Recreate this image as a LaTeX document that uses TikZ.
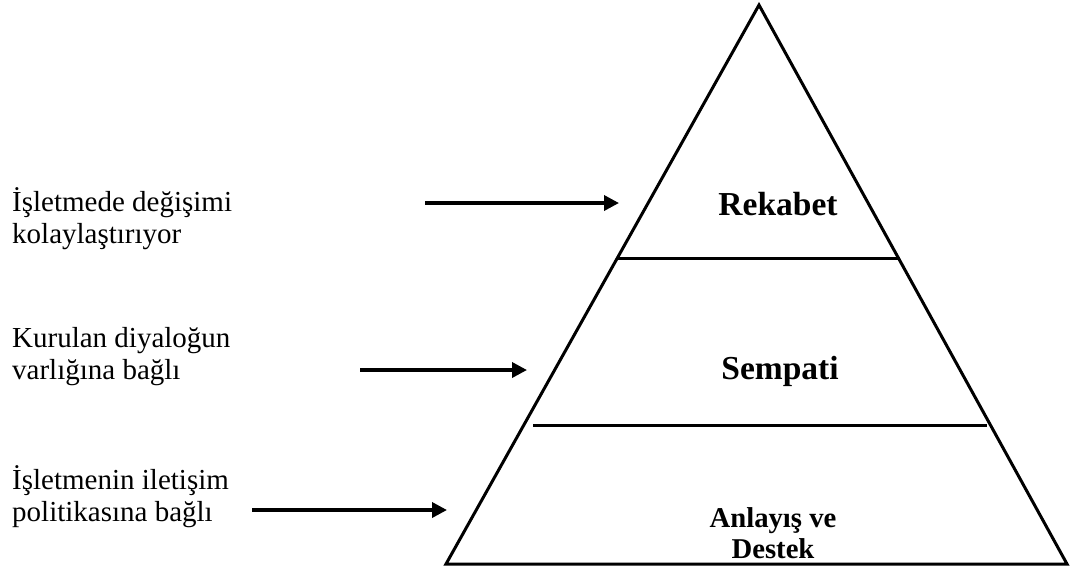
\documentclass[tikz,border=0pt]{standalone}
\usepackage{fontspec}
\setmainfont{Liberation Serif}
\usetikzlibrary{arrows.meta}
\begin{document}
\begin{tikzpicture}[x=1pt,y=-1pt,
  edge/.style={line width=3pt,line join=miter},
  divider/.style={line width=3pt},
  pointer/.style={line width=3.5pt,-{Triangle[length=15pt,width=15pt]}},
  note/.style={anchor=base west,align=left,font=\fontsize{29}{31.5}\selectfont,inner sep=0pt},
  tier/.style={anchor=center,align=center,font=\bfseries\fontsize{33.5}{36}\selectfont,inner sep=0pt},
  tiersmall/.style={anchor=center,align=center,font=\bfseries\fontsize{28.7}{31}\selectfont,inner sep=0pt}]
\useasboundingbox (0,0) rectangle (1070,571);
% pyramid outline
\coordinate (apex) at (759,5);
\coordinate (bl) at (446,564);
\coordinate (br) at (1067,564);
\draw[edge] (apex) -- (bl) -- (br) -- cycle;
% tier dividers
\coordinate (d1l) at (617,258);
\coordinate (d1r) at (900,258);
\coordinate (d2l) at (533,425);
\coordinate (d2r) at (987,425);
\draw[divider] (d1l) -- (d1r);
\draw[divider] (d2l) -- (d2r);
% tier labels
\node[tier] (rek) at (778,204) {Rekabet};
\node[tier] (sem) at (780,371) {Sempati};
\node[tiersmall] (and) at (773,533) {Anlayış ve\\Destek};
% side notes (anchored at the baseline of their last line)
\node[note] (n1) at (12,243) {İşletmede değişimi\\kolaylaştırıyor};
\node[note] (n2) at (12,379) {Kurulan diyaloğun\\varlığına bağlı};
\node[note] (n3) at (12,521) {İşletmenin iletişim\\politikasına bağlı};
% pointers
\coordinate (a1s) at (425,203);
\coordinate (a1e) at (619,203);
\coordinate (a2s) at (360,370);
\coordinate (a2e) at (527,370);
\coordinate (a3s) at (252,510);
\coordinate (a3e) at (447,510);
\draw[pointer] (a1s) -- (a1e);
\draw[pointer] (a2s) -- (a2e);
\draw[pointer] (a3s) -- (a3e);
\end{tikzpicture}
\end{document}
